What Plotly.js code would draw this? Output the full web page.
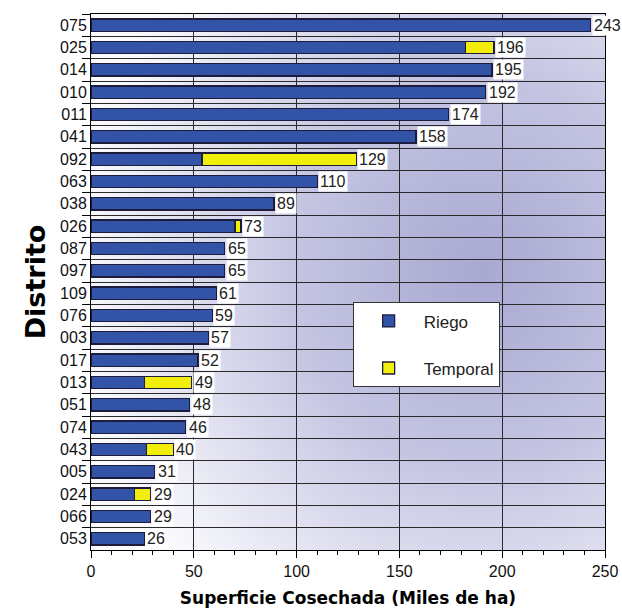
<!DOCTYPE html>
<html><head><meta charset="utf-8">
<script src="https://cdn.plot.ly/plotly-3.0.1.min.js"></script>
<style>html,body{margin:0;padding:0;background:#fff}#c{width:622px;height:610px}</style>
</head><body><div id="c"></div>
<script>
const distritos = ["075","025","014","010","011","041","092","063","038","026","087","097","109","076","003","017","013","051","074","043","005","024","066","053"];
const riego =    [243,182,195,192,174,158,54,110,89,70,65,65,61,59,57,52,26,48,46,27,31,21,29,26];
const temporal = [0,14,0,0,0,0,75,0,0,3,0,0,0,0,0,0,23,0,0,13,0,8,0,0];
const totales =  [243,196,195,192,174,158,129,110,89,73,65,65,61,59,57,52,49,48,46,40,31,29,29,26];
const xTicks = [0,50,100,150,200,250];

const grad = '<svg xmlns="http://www.w3.org/2000/svg" width="514" height="536" viewBox="0 0 514 536" preserveAspectRatio="none">' +
 '<defs><radialGradient id="g" cx="0.76" cy="0.48" r="0.8" fx="0.76" fy="0.48">' +
 '<stop offset="0" stop-color="#a8a8d2"/><stop offset="0.45" stop-color="#c4c4e2"/><stop offset="1" stop-color="#fbfbfe"/></radialGradient></defs>' +
 '<rect width="514" height="536" fill="url(#g)"/></svg>';
const gradUrl = 'data:image/svg+xml;base64,' + btoa(grad);

const lineCol = '#1c1c3c';
const traces = [
 {type:'bar', orientation:'h', name:'Riego', legendgroup:'r', y:distritos, x:riego, width:0.55,
  marker:{color:'#3353a6', line:{color:lineCol, width:1.3}}, hoverinfo:'x+y'},
 {type:'bar', orientation:'h', name:'Temporal', legendgroup:'t', y:distritos, x:temporal, width:0.55,
  marker:{color:'#f2ee0c', line:{color:lineCol, width:1.3}}, hoverinfo:'x+y'}
];

const annotations = distritos.map((d,i)=>({
  x: totales[i], y: i, xref:'x', yref:'y', text: String(totales[i]),
  showarrow:false, xanchor:'left', xshift:1, bgcolor:'#ffffff', borderpad:1,
  font:{family:'Liberation Sans, Arial, sans-serif', size:16, color:'#222'}
}));

const layout = {
  width:622, height:610,
  margin:{l:91, r:17, t:14, b:60},
  paper_bgcolor:'#ffffff', plot_bgcolor:'rgba(0,0,0,0)',
  barmode:'stack', showlegend:true,
  font:{family:'Liberation Sans, Arial, sans-serif', color:'#000'},
  xaxis:{range:[0,250], tickvals:xTicks, ticktext:xTicks.map(String), ticks:'outside', ticklen:7, tickcolor:'#000',
    showgrid:true, gridcolor:'#2a2a2a', gridwidth:1, showline:true, linecolor:'#000', linewidth:1, mirror:true, zeroline:false,
    tickfont:{size:16, color:'#111'},
    minor:{dtick:10, ticks:'outside', ticklen:4, tickcolor:'#000', showgrid:false},
    title:{text:'<b>Superficie Cosechada (Miles de ha)</b>', font:{family:'DejaVu Sans, sans-serif', size:17, color:'#000'}, standoff:12}},
  yaxis:{type:'category', categoryorder:'array', categoryarray:distritos, range:[distritos.length-0.5, -0.5], autorange:false,
    tickson:'boundaries', ticks:'outside', ticklen:8, tickcolor:'#000',
    showgrid:true, gridcolor:'#2a2a2a', gridwidth:1, showline:true, linecolor:'#000', linewidth:1, mirror:true, zeroline:false,
    tickfont:{size:16, color:'#111'},
    title:{text:'<b>Distrito</b>', font:{family:'DejaVu Sans, sans-serif', size:27, color:'#000'}, standoff:6}},
  legend:{x:0.509, y:0.462, xanchor:'left', yanchor:'top', bgcolor:'#ffffff', bordercolor:'#333', borderwidth:1,
    font:{size:17, color:'#222'}, itemwidth:60, tracegroupgap:22, traceorder:'grouped', valign:'middle'},
  annotations: annotations,
  images:[{source:gradUrl, xref:'paper', yref:'paper', x:0, y:1, sizex:1, sizey:1, sizing:'stretch', layer:'below', xanchor:'left', yanchor:'top'}]
};
Plotly.newPlot('c', traces, layout, {displayModeBar:false, staticPlot:true});
</script></body></html>
